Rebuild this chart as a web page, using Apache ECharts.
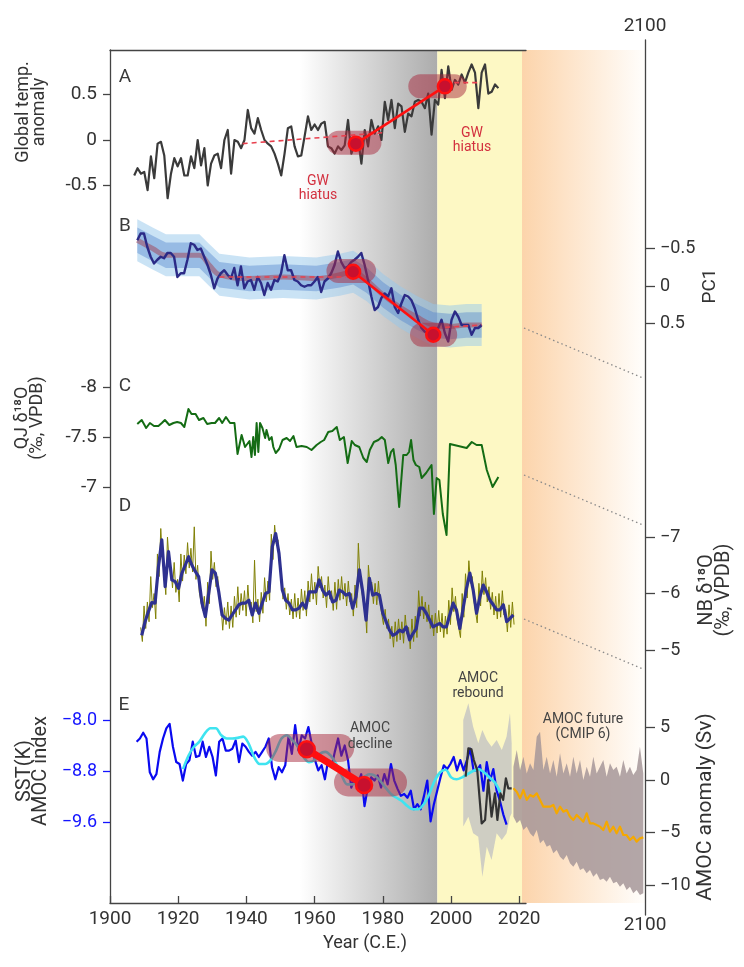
<!DOCTYPE html>
<html>
<head>
<meta charset="utf-8">
<script src="https://cdn.jsdelivr.net/npm/echarts@6/dist/echarts.min.js"></script>
<style>
  html, body { margin: 0; padding: 0; background: #fff; }
  #chart { width: 744px; height: 967px; }
</style>
</head>
<body>
<div id="chart"></div>
<script>
'use strict';

// ---- data ----
// A: global temperature anomaly (yearly, 1907 - 2014)
const tempRange = [1907.1, 2013.9];
const tempVals = [-0.39,-0.31,-0.37,-0.35,-0.55,-0.18,-0.42,-0.04,-0.02,-0.17,
  -0.64,-0.37,-0.20,-0.29,-0.20,-0.39,-0.39,-0.18,-0.31,0,
  -0.28,-0.09,-0.50,-0.26,-0.17,-0.15,-0.31,0,0.11,-0.37,
  0,-0.02,-0.09,0,0.33,0.13,0.07,0.24,0.11,0,
  -0.04,-0.07,-0.15,-0.26,-0.39,-0.15,0.13,0.15,-0.07,-0.18,
  -0.17,0.04,0.26,0.11,0.17,0.11,0.18,0.20,-0.07,-0.09,
  -0.15,-0.07,-0.11,-0.06,0.22,-0.15,-0.04,0.02,-0.26,0.11,
  -0.07,0.22,0.07,0.15,0,0.42,0.22,0.44,0.13,0.40,
  0.37,0.09,0.29,0.26,0.42,0.44,0.42,0.35,0.51,0.06,
  0.44,0.39,0.77,0.46,0.81,0.55,0.66,0.61,0.72,0.63,
  0.74,0.83,0.74,0.35,0.74,0.83,0.51,0.53,0.61,0.57];
const tempTicks = [-0.5, 0, 0.5];
const tempDots = [[1972.1, -0.04], [1998.2, 0.59]];
const tempDash1 = [[1938.9, -0.04], [1980.1, 0.08]];
const tempDash2 = [[1998.3, 0.63], [2008.1, 0.63]];
const tempBoxes = [[1967.0, 1976.1, -0.03], [1991.0, 2001.1, 0.59]];

// B: PC1
const pcRange = [1908.0, 2009.0];
const pcVals = [-0.61,-0.70,-0.70,-0.52,-0.39,-0.30,-0.35,-0.39,-0.37,-0.44,
  -0.44,-0.39,-0.12,-0.17,-0.17,-0.35,-0.57,-0.55,-0.48,-0.50,
  -0.39,-0.28,-0.15,0.03,-0.10,-0.17,-0.21,-0.15,-0.10,-0.24,
  -0.01,-0.26,0.03,-0.06,-0.08,0.05,-0.12,-0.04,0.12,-0.04,
  0.05,-0.08,-0.06,-0.17,-0.41,-0.21,-0.21,-0.08,-0.06,-0.01,
  0.01,-0.01,-0.01,-0.06,-0.12,0.08,-0.06,-0.10,-0.17,-0.28,
  -0.46,-0.32,-0.24,-0.26,-0.32,-0.35,-0.39,-0.44,-0.28,-0.08,
  0.14,0.32,0.28,0.16,0.10,0.14,0.03,0.28,0.36,0.23,
  0.12,0.14,0.19,0.30,0.45,0.56,0.61,0.63,0.68,0.63,
  0.56,0.45,0.63,0.74,0.45,0.34,0.41,0.52,0.52,0.52,
  0.65,0.56,0.56,0.52];
const pcBandYears = [1908.0,1912.5,1916.4,1921.3,1926.2,1929.1,1932.1,1940.9,1950.7,1960.5,
  1967.4,1971.3,1975.2,1980.1,1985.0,1989.9,1994.8,1999.7,2004.6,2009.0];
const pcBandMid = [-0.61,-0.50,-0.41,-0.41,-0.41,-0.28,-0.15,-0.10,-0.12,-0.10,
  -0.15,-0.19,-0.08,0.12,0.28,0.41,0.52,0.54,0.52,0.52];
const pcLightHalf = 0.28;
const pcDarkHalf = 0.17;
const pcTicks = [-0.5, 0, 0.5];
const pcDots = [[1971.3, -0.19], [1994.8, 0.65]];
const pcDash1 = [[1932.1, -0.12], [1969.3, -0.12]];
const pcDash2 = [[1998.3, 0.55], [2009.0, 0.52]];
const pcBoxes = [[1967.0, 1974.5, -0.20], [1991.5, 1998.3, 0.65]];

// C: QJ d18O
const qjYears = [1908.0,1909.3,1910.6,1911.7,1912.9,1914.2,1915.2,1916.1,1917.4,1918.6,
  1919.7,1920.8,1921.8,1923.0,1923.9,1925.1,1926.1,1927.4,1928.5,1929.8,
  1930.8,1932.0,1932.9,1934.0,1935.2,1936.5,1937.4,1938.6,1939.6,1940.9,
  1941.5,1942.0,1942.5,1943.0,1943.5,1944.0,1944.7,1945.5,1945.9,1946.7,
  1947.4,1947.9,1948.6,1949.6,1950.6,1951.8,1952.8,1953.8,1954.7,1956.2,
  1957.7,1959.1,1960.6,1961.8,1962.8,1964.0,1965.2,1966.5,1967.4,1968.6,
  1969.7,1970.9,1971.8,1973.1,1974.3,1975.3,1976.2,1977.4,1978.7,1979.7,
  1980.6,1981.6,1982.4,1983.1,1983.8,1984.8,1986.0,1987.0,1987.7,1988.3,
  1989.0,1989.7,1990.7,1991.4,1992.7,1994.3,1995.0,1995.8,1996.6,1997.6,
  1998.7,1999.7,2004.6,2006.1,2007.5,2009.0,2010.5,2012.2,2013.9];
const qjVals = [-7.63,-7.67,-7.59,-7.64,-7.61,-7.61,-7.64,-7.67,-7.62,-7.64,
  -7.65,-7.64,-7.60,-7.78,-7.73,-7.73,-7.67,-7.69,-7.63,-7.64,
  -7.64,-7.69,-7.64,-7.70,-7.64,-7.64,-7.33,-7.52,-7.40,-7.46,
  -7.30,-7.50,-7.32,-7.64,-7.35,-7.64,-7.59,-7.49,-7.57,-7.47,
  -7.50,-7.40,-7.34,-7.38,-7.47,-7.49,-7.46,-7.51,-7.40,-7.41,
  -7.40,-7.37,-7.42,-7.45,-7.47,-7.55,-7.56,-7.60,-7.47,-7.50,
  -7.24,-7.46,-7.42,-7.40,-7.29,-7.25,-7.37,-7.45,-7.47,-7.50,
  -7.47,-7.24,-7.35,-7.38,-7.22,-6.80,-7.32,-7.32,-7.35,-7.47,
  -7.27,-7.22,-7.20,-7.09,-7.14,-7.22,-6.73,-7.09,-7.07,-6.73,
  -6.52,-7.43,-7.39,-7.45,-7.42,-7.42,-7.17,-7.00,-7.10];
const qjTicks = [-8, -7.5, -7];

// D: NB d18O (smoothed and raw)
const nbRange = [1909.3, 2018.3];
const nbSmooth = [-5.26,-5.50,-5.68,-5.84,-5.83,-6.47,-6.95,-6.12,-6.74,-6.24,
  -6.21,-6.09,-6.36,-6.50,-6.65,-6.50,-6.39,-6.30,-5.83,-5.59,
  -6.00,-6.42,-6.36,-6.03,-5.62,-5.56,-5.53,-5.62,-5.71,-5.80,
  -5.83,-5.83,-5.88,-5.62,-5.83,-5.65,-5.83,-6.00,-6.03,-6.83,
  -7.06,-6.71,-6.06,-5.88,-5.83,-5.71,-5.71,-5.74,-5.83,-5.74,
  -6.03,-6.03,-6.03,-6.24,-6.06,-5.97,-6.03,-5.85,-5.88,-6.06,
  -6.03,-5.97,-6.00,-5.74,-5.94,-6.42,-6.03,-5.53,-6.27,-5.97,
  -6.00,-5.97,-5.65,-5.50,-5.35,-5.26,-5.29,-5.35,-5.32,-5.41,
  -5.18,-5.29,-5.38,-5.74,-5.74,-5.65,-5.53,-5.41,-5.44,-5.47,
  -5.41,-5.41,-5.62,-5.83,-5.71,-5.38,-5.74,-6.09,-6.36,-6.06,
  -5.65,-5.94,-6.15,-6.03,-5.88,-5.80,-5.71,-5.71,-5.80,-5.50,
  -5.56,-5.62];
const nbRawRange = [1909.0, 2018.5];
const nbRaw = [-5.40,-5.15,-5.78,-5.38,-5.85,-5.50,-6.30,-5.75,-6.00,-5.55,-6.70,-6.30,-7.15,-6.60,-6.35,-5.98,-7.00,-6.55,-6.45,-6.10,
  -6.55,-6.02,-6.25,-5.85,-6.70,-6.22,-6.68,-6.35,-6.90,-6.45,-6.80,-6.38,-7.18,-6.25,-6.50,-6.02,-6.05,-5.70,-5.95,-5.42,
  -6.20,-5.82,-6.75,-6.25,-6.55,-6.12,-6.30,-5.90,-5.80,-5.35,-5.75,-5.45,-5.85,-5.38,-5.78,-5.40,-5.95,-5.58,-6.12,-5.62,
  -6.00,-5.70,-6.05,-5.60,-6.15,-5.72,-5.85,-5.48,-6.59,-5.68,-5.90,-5.50,-6.02,-5.65,-6.28,-5.85,-6.22,-5.88,-7.05,-6.60,
  -7.21,-6.88,-6.95,-6.45,-6.30,-5.90,-6.10,-5.72,-6.00,-5.62,-5.90,-5.55,-6.00,-5.58,-5.92,-5.55,-6.08,-5.70,-6.05,-5.60,
  -6.22,-5.85,-6.35,-5.90,-6.20,-5.80,-6.48,-6.10,-6.30,-5.92,-6.15,-5.75,-6.30,-5.90,-6.05,-5.70,-6.20,-5.72,-6.25,-5.88,
  -6.30,-5.90,-6.18,-5.78,-6.22,-5.85,-6.00,-5.60,-6.15,-5.75,-6.89,-6.25,-6.25,-5.85,-5.80,-5.30,-6.50,-6.10,-6.20,-5.82,
  -6.18,-5.80,-6.22,-5.82,-5.85,-5.45,-5.72,-5.38,-5.55,-5.20,-5.42,-5.05,-5.50,-5.15,-5.55,-5.18,-5.50,-5.12,-5.62,-5.28,
  -5.40,-5.02,-5.55,-5.15,-5.60,-5.22,-6.05,-5.60,-5.95,-5.55,-5.85,-5.50,-5.80,-5.38,-5.62,-5.25,-5.65,-5.30,-5.70,-5.32,
  -5.65,-5.22,-5.60,-5.28,-5.88,-5.45,-6.10,-5.68,-5.95,-5.55,-5.58,-5.22,-6.00,-5.58,-6.35,-5.92,-6.58,-6.18,-6.30,-5.88,
  -5.90,-5.48,-6.18,-5.78,-6.40,-5.98,-6.28,-5.85,-6.12,-5.72,-6.02,-5.62,-5.95,-5.55,-6.00,-5.58,-6.05,-5.62,-5.72,-5.32,
  -5.80,-5.40,-5.85,-5.45];
const nbTicks = [-7, -6, -5];

// E: SST(K) AMOC index, RAPID AMOC, CMIP6 future
const sstRange = [1907.8, 2016.3];
const sstVals = [-8.34,-8.29,-8.20,-8.29,-8.82,-8.93,-8.85,-8.50,-8.29,-8.13,
  -8.06,-8.42,-8.66,-8.69,-8.95,-8.69,-8.63,-8.34,-8.58,-8.56,
  -8.34,-8.58,-8.42,-8.58,-8.87,-8.34,-8.29,-8.48,-8.48,-8.45,
  -8.32,-8.66,-8.37,-8.42,-8.50,-8.56,-8.50,-8.58,-8.50,-8.42,
  -8.29,-8.74,-8.93,-8.74,-8.82,-8.71,-8.26,-8.53,-8.08,-8.48,
  -8.24,-8.29,-8.11,-8.37,-8.63,-8.79,-8.71,-8.93,-8.63,-8.74,
  -8.50,-8.29,-8.56,-8.40,-8.63,-9.06,-8.90,-9.01,-8.85,-9.35,
  -9.06,-8.90,-8.95,-8.87,-9.06,-8.85,-9.01,-8.69,-8.95,-9.08,
  -9.19,-9.16,-9.22,-9.11,-9.40,-9.32,-9.40,-9.19,-8.95,-9.59,
  -9.32,-9.11,-8.90,-8.71,-8.77,-8.69,-8.58,-8.79,-8.63,-8.79,
  -8.63,-8.45,-8.79,-8.79,-8.71,-9.11,-8.66,-8.95,-8.77,-9.11,
  -9.27,-9.48,-9.64];
const sstSmoothRange = [1921.4, 2014.5];
const sstSmooth = [-8.77,-8.56,-8.42,-8.34,-8.21,-8.13,-8.13,-8.24,-8.29,-8.29,
  -8.28,-8.26,-8.37,-8.58,-8.69,-8.69,-8.63,-8.48,-8.29,-8.24,
  -8.32,-8.42,-8.58,-8.66,-8.63,-8.53,-8.50,-8.56,-8.69,-8.87,
  -9.01,-9.01,-8.95,-8.90,-8.85,-8.87,-8.95,-9.06,-9.16,-9.22,
  -9.27,-9.35,-9.40,-9.40,-9.32,-9.16,-8.95,-8.82,-8.78,-8.90,
  -8.93,-8.90,-8.85,-8.80,-8.77,-8.82,-8.90,-8.98,-9.14];
const sstTicks = [-9.6, -8.8, -8.0];
const sstDots = [[1957.7, -8.46], [1974.5, -9.02]];
const sstBoxes = [[1949.9, 1967.5, -8.44], [1969.8, 1983.0, -8.98]];

const rapidYears = [2004.3,2005.1,2006.0,2006.7,2007.7,2009.0,2010.0,2010.9,2011.9,2012.9,2013.6,2014.5,2015.3,2016.1,2016.8,2017.8];
const rapidVals = [0.32,3.02,2.92,1.90,0.95,-4.13,-3.81,0,-3.49,-1.27,-3.81,-1.27,-1.90,0.16,-0.79,-0.79];
const rapidBandYears = [2003.6,2005.1,2006.5,2008.0,2009.2,2010.5,2011.9,2013.4,2014.9,2016.3,2017.3,2017.8];
const rapidBandHi = [5.71,7.30,5.08,3.49,4.76,3.81,3.17,3.81,2.86,4.13,6.35,3.50];
const rapidBandLo = [-4.44,-3.49,-5.08,-5.40,-9.21,-6.35,-7.62,-5.08,-5.71,-5.08,-3.49,-3.17];

const futRange = [2015.9, 2098.9];
const futMean = [-0.79,-1.11,-1.75,-0.95,-1.90,-1.43,-1.59,-1.27,-1.90,-2.54,
  -2.54,-2.54,-2.38,-3.17,-2.54,-3.02,-2.86,-3.49,-3.81,-3.33,
  -3.65,-3.97,-3.17,-4.13,-4.13,-4.29,-4.44,-4.76,-3.97,-4.92,
  -4.44,-5.08,-4.44,-5.24,-5.24,-5.71,-5.40,-5.87,-5.56,-5.46];
const futHi = [1.27,2.86,0.95,2.22,0.63,1.59,0.95,4.13,4.60,0.95,
  2.22,0.63,1.90,0.32,2.54,0.63,1.59,0.32,2.22,0.63,
  1.90,0,1.27,0.32,2.22,0.63,1.27,1.90,0.32,1.59,
  0.95,1.27,0.32,1.90,0.63,1.27,0.48,0.95,3.17,0.63];
const futLo = [-3.49,-4.13,-3.81,-4.76,-4.44,-5.08,-5.40,-4.76,-6.03,-5.71,
  -6.35,-6.19,-6.98,-6.67,-7.30,-7.62,-7.14,-7.94,-8.25,-7.78,
  -8.57,-8.41,-8.89,-8.57,-9.21,-8.89,-9.52,-9.37,-9.68,-9.21,
  -9.84,-9.68,-10.16,-9.84,-10.48,-10.16,-10.79,-10.48,-10.95,-10.79];
const amocTicks = [-10, -5, 0, 5];

// shaded periods
const declineSpan = [1955.6, 1996];
const reboundSpan = [1996, 2021];
const futureSpan = [2021.4, 2100];

// ---- helpers ----
const FONT = 'Roboto, "Noto Sans", sans-serif';
const AX = '#444';
const TXT = '#333';

function spread(range, n) {
  const out = [];
  for (let i = 0; i < n; i++) out.push(range[0] + (range[1] - range[0]) * i / (n - 1));
  return out;
}
function zip(xs, ys) { return xs.map((x, i) => [x, ys[i]]); }
function minus(v) { return v < 0 ? '\u2212' + String(-v) : String(v); }

function line(xi, yi, data, color, width, extra) {
  return Object.assign({
    type: 'line', xAxisIndex: xi, yAxisIndex: yi, data: data,
    symbol: 'none', silent: true,
    lineStyle: { color: color, width: width, join: 'round' }
  }, extra || {});
}
function box(xi, yi, b, h) {
  return line(xi, yi, [[b[0], b[2]], [b[1], b[2]]], 'rgba(168,42,62,0.5)', h,
    { clip: false, lineStyle: { color: 'rgba(168,42,62,0.5)', width: h, cap: 'round' } });
}
function dots(xi, yi, data, width, size) {
  return {
    type: 'line', xAxisIndex: xi, yAxisIndex: yi, data: data, silent: true, clip: false,
    symbol: 'circle', symbolSize: size, showSymbol: true,
    itemStyle: { color: '#c8102e', borderColor: '#ff1010', borderWidth: 2.5 },
    lineStyle: { color: '#ff1010', width: width }
  };
}
function dashed(xi, yi, data) {
  return line(xi, yi, data, '#e8404e', 1.6, { lineStyle: { color: '#e8404e', width: 1.6, type: [5, 4] } });
}
function band(xi, yi, xs, lo, hi, fill) {
  return {
    type: 'custom', xAxisIndex: xi, yAxisIndex: yi, silent: true,
    data: xs.map((x, i) => [x, lo[i], hi[i]]),
    encode: { x: 0, y: [1, 2] },
    renderItem: function (params, api) {
      if (params.dataIndex !== 0) return;
      const top = xs.map((x, i) => api.coord([x, hi[i]]));
      const bot = xs.map((x, i) => api.coord([x, lo[i]])).reverse();
      return { type: 'polygon', shape: { points: top.concat(bot) }, style: { fill: fill } };
    }
  };
}
function hx(gi, min, max) { return { type: 'value', gridIndex: gi, min: min, max: max, show: false }; }
function hy(gi, min, max) { return { type: 'value', gridIndex: gi, min: min, max: max, show: false }; }
function tickY(gi, min, max, ticks, pos, fmt, o) {
  o = o || {};
  const col = o.color || TXT;
  return {
    type: 'value', gridIndex: gi, min: min, max: max, position: pos,
    inverse: !!o.inverse, offset: o.offset || 0, z: 10,
    axisLine: { show: false },
    axisTick: { show: true, length: o.tick || 7, customValues: ticks, lineStyle: { color: o.tickColor || AX, width: 1.3 } },
    axisLabel: { customValues: ticks, formatter: fmt, color: col, fontSize: o.size || 19, fontFamily: FONT, margin: o.margin || 13 },
    splitLine: { show: false }
  };
}
function txt(x, y, text, size, color, o) {
  o = o || {};
  return {
    type: 'text', x: x, y: y, rotation: o.rot || 0, z: 100, silent: true,
    style: {
      text: text, fill: color, font: size + 'px ' + FONT,
      textAlign: 'center', align: 'center', textVerticalAlign: 'middle', verticalAlign: 'middle',
      lineHeight: o.lh || size + 2
    }
  };
}
function dotted(x1, y1, x2, y2) {
  return { type: 'line', z: 100, silent: true, shape: { x1: x1, y1: y1, x2: x2, y2: y2 },
    style: { stroke: '#8a8a8a', lineWidth: 1.3, lineDash: [1.5, 3] } };
}

// ---- layout ----
const grids = [
  { left: 110, top: 50, width: 416, height: 853 },     // 0 frame
  { left: 110, top: 58.1, width: 416, height: 154.7 }, // 1 A
  { left: 110, top: 218.5, width: 416, height: 135 },  // 2 B
  { left: 110, top: 377, width: 416, height: 170 },    // 3 C
  { left: 110, top: 503.1, width: 416, height: 169.5 },// 4 D
  { left: 110, top: 694.5, width: 416, height: 178.5 },// 5 E (SST)
  { left: 110, top: 696, width: 416, height: 210 },    // 6 E (Sv)
  { left: 512, top: 696, width: 133, height: 210 },    // 7 future
  { left: 512, top: 40, width: 133, height: 875 },     // 8 right frame
  { left: 512, top: 50, width: 133, height: 853 }      // 9 future shading
].map(g => Object.assign({ outerBoundsMode: 'none', containLabel: false }, g));

const Y0 = 1900, Y1 = 2022, F0 = 2015, F1 = 2100;
const xAxes = [
  { type: 'value', gridIndex: 0, min: Y0, max: Y1, interval: 20, position: 'bottom', z: 10,
    axisLine: { show: true, lineStyle: { color: AX, width: 1.3 } },
    axisTick: { show: true, inside: true, length: 7, lineStyle: { color: AX, width: 1.3 } },
    axisLabel: { formatter: v => String(v), color: TXT, fontSize: 19, fontFamily: FONT, margin: 7 },
    splitLine: { show: false } },
  { type: 'value', gridIndex: 0, min: Y0, max: Y1, position: 'top', z: 10,
    axisLine: { show: true, lineStyle: { color: AX, width: 1.3 } },
    axisTick: { show: false }, axisLabel: { show: false }, splitLine: { show: false } },
  hx(1, Y0, Y1), hx(2, Y0, Y1), hx(3, Y0, Y1), hx(4, Y0, Y1), hx(5, Y0, Y1), hx(6, Y0, Y1),
  hx(7, F0, F1),
  { type: 'value', gridIndex: 8, min: F0, max: F1, interval: 85, position: 'bottom',
    axisLine: { show: false }, axisTick: { show: false }, splitLine: { show: false },
    axisLabel: { formatter: v => (v === 2100 ? '2100' : ''), color: TXT, fontSize: 19, fontFamily: FONT, margin: 1 } },
  { type: 'value', gridIndex: 8, min: F0, max: F1, interval: 85, position: 'top',
    axisLine: { show: false }, axisTick: { show: false }, splitLine: { show: false },
    axisLabel: { formatter: v => (v === 2100 ? '2100' : ''), color: TXT, fontSize: 19, fontFamily: FONT, margin: 4 } },
  hx(9, F0, F1)
];
const XI = { A: 2, B: 3, C: 4, D: 5, E: 6, S: 7, F: 8, O: 11 };

const yAxes = [
  { type: 'value', gridIndex: 0, min: 0, max: 1, position: 'left', z: 10,
    axisLine: { show: true, lineStyle: { color: AX, width: 1.3 } },
    axisTick: { show: false }, axisLabel: { show: false }, splitLine: { show: false } },
  tickY(1, -0.8, 0.9, tempTicks, 'left', v => String(v)),
  tickY(2, -0.9, 0.9, pcTicks, 'right', minus, { inverse: true, offset: 119, tick: 10, size: 18, margin: 15 }),
  tickY(3, -8.1, -6.4, qjTicks, 'left', v => String(v), { inverse: true }),
  tickY(4, -7.6, -4.6, nbTicks, 'right', minus, { inverse: true, offset: 119, tick: 10, size: 18, margin: 15 }),
  tickY(5, -10.4, -7.6, sstTicks, 'left', v => '\u2212' + Math.abs(v).toFixed(1),
    { color: '#1414ff', tickColor: '#1414ff', size: 18 }),
  hy(6, -12, 8),
  tickY(7, -12, 8, amocTicks, 'right', minus, { tick: 10, size: 18, margin: 15 }),
  { type: 'value', gridIndex: 8, min: 0, max: 1, position: 'right', z: 10,
    axisLine: { show: true, lineStyle: { color: AX, width: 1.3 } },
    axisTick: { show: false }, axisLabel: { show: false }, splitLine: { show: false } },
  hy(9, 0, 1)
];
const YI = { A: 1, B: 2, C: 3, D: 4, E: 5, S: 6, F: 7, O: 9 };

// ---- series ----
const grayGrad = new echarts.graphic.LinearGradient(0, 0, 1, 0,
  [{ offset: 0, color: '#ffffff' }, { offset: 1, color: '#acacac' }]);
const orangeGrad = new echarts.graphic.LinearGradient(0, 0, 1, 0,
  [{ offset: 0, color: '#fcd4ab' }, { offset: 1, color: '#fffefc' }]);

const pcLightLo = pcBandMid.map(v => v - pcLightHalf), pcLightHi = pcBandMid.map(v => v + pcLightHalf);
const pcDarkLo = pcBandMid.map(v => v - pcDarkHalf), pcDarkHi = pcBandMid.map(v => v + pcDarkHalf);

const series = [
  // backgrounds
  { type: 'line', xAxisIndex: 0, yAxisIndex: 0, data: [[1900, 0]], symbol: 'none', silent: true,
    lineStyle: { opacity: 0 },
    markArea: { silent: true, data: [
      [{ xAxis: declineSpan[0], itemStyle: { color: grayGrad } }, { xAxis: declineSpan[1] }],
      [{ xAxis: reboundSpan[0], itemStyle: { color: '#fdf8c4' } }, { xAxis: reboundSpan[1] }]
    ] } },
  { type: 'line', xAxisIndex: XI.O, yAxisIndex: YI.O, data: [[2050, 0]], symbol: 'none', silent: true,
    lineStyle: { opacity: 0 },
    markArea: { silent: true, data: [
      [{ xAxis: futureSpan[0], itemStyle: { color: orangeGrad } }, { xAxis: futureSpan[1] }]
    ] } },

  // A
  line(XI.A, YI.A, zip(spread(tempRange, tempVals.length), tempVals), '#3a3a3a', 2.2),
  box(XI.A, YI.A, tempBoxes[0], 24),
  box(XI.A, YI.A, tempBoxes[1], 24),
  dashed(XI.A, YI.A, tempDash1),
  dashed(XI.A, YI.A, tempDash2),
  dots(XI.A, YI.A, tempDots, 2.6, 14),

  // B
  band(XI.B, YI.B, pcBandYears, pcLightLo, pcLightHi, 'rgba(150,200,235,0.5)'),
  band(XI.B, YI.B, pcBandYears, pcDarkLo, pcDarkHi, 'rgba(80,130,205,0.42)'),
  line(XI.B, YI.B, zip(pcBandYears, pcBandMid), 'rgba(160,75,95,0.55)', 5, { smooth: 0.4 }),
  line(XI.B, YI.B, zip(spread(pcRange, pcVals.length), pcVals), '#2b2a86', 2.4),
  box(XI.B, YI.B, pcBoxes[0], 24),
  box(XI.B, YI.B, pcBoxes[1], 24),
  dashed(XI.B, YI.B, pcDash1),
  dashed(XI.B, YI.B, pcDash2),
  dots(XI.B, YI.B, pcDots, 2.6, 14),

  // C
  line(XI.C, YI.C, zip(qjYears, qjVals), '#146c14', 2),

  // D
  line(XI.D, YI.D, zip(spread(nbRawRange, nbRaw.length), nbRaw), '#808005', 1),
  line(XI.D, YI.D, zip(spread(nbRange, nbSmooth.length), nbSmooth), '#2e3190', 3.2),

  // E
  band(XI.S, YI.S, rapidBandYears, rapidBandLo, rapidBandHi, 'rgba(195,195,195,0.8)'),
  band(XI.F, YI.F, spread(futRange, futHi.length), futLo, futHi, 'rgba(166,150,153,0.85)'),
  line(XI.E, YI.E, zip(spread(sstRange, sstVals.length), sstVals), '#0a0af0', 2.2),
  line(XI.E, YI.E, zip(spread(sstSmoothRange, sstSmooth.length), sstSmooth), '#3fe4f0', 2.6, { smooth: 0.3 }),
  line(XI.S, YI.S, zip(rapidYears, rapidVals), '#333333', 2.2),
  line(XI.F, YI.F, zip(spread(futRange, futMean.length), futMean), '#f5a800', 2.2),
  box(XI.E, YI.E, sstBoxes[0], 28),
  box(XI.E, YI.E, sstBoxes[1], 28),
  dots(XI.E, YI.E, sstDots, 7, 16)
];

// ---- text & decorations ----
const R90 = Math.PI / 2;
const graphics = [
  dotted(524, 328, 643, 378),
  dotted(524, 475, 643, 525),
  dotted(524, 619, 643, 669),
  txt(125, 77, 'A', 19, '#3a3a3a'),
  txt(125, 226, 'B', 19, '#3a3a3a'),
  txt(125, 386, 'C', 19, '#3a3a3a'),
  txt(125, 506, 'D', 19, '#3a3a3a'),
  txt(124, 705, 'E', 19, '#3a3a3a'),
  txt(31, 112, 'Global temp.\nanomaly', 18, TXT, { rot: R90, lh: 16 }),
  txt(30, 418, 'QJ \u03b4\u00b9\u2078O\n(\u2030, VPDB)', 18, TXT, { rot: R90, lh: 15 }),
  txt(33, 771, 'SST(K)\nAMOC index', 20, TXT, { rot: R90, lh: 16 }),
  txt(710, 286, 'PC1', 19, TXT, { rot: R90 }),
  txt(715, 590, 'NB \u03b4\u00b9\u2078O\n(\u2030, VPDB)', 20, TXT, { rot: R90, lh: 17 }),
  txt(706, 807, 'AMOC anomaly (Sv)', 21, TXT, { rot: R90 }),
  txt(365, 943, 'Year (C.E.)', 18, TXT),
  txt(318, 188, 'GW\nhiatus', 14, '#d3303f', { lh: 14 }),
  txt(472, 140, 'GW\nhiatus', 14, '#d3303f', { lh: 14 }),
  txt(370, 736, 'AMOC\ndecline', 14, '#444', { lh: 16 }),
  txt(478, 686, 'AMOC\nrebound', 14, '#444', { lh: 15 }),
  txt(583, 727, 'AMOC future\n(CMIP 6)', 14, '#444', { lh: 15 })
];

const chart = echarts.init(document.getElementById('chart'), null, { renderer: 'canvas' });
chart.setOption({
  animation: false,
  backgroundColor: '#ffffff',
  textStyle: { fontFamily: FONT },
  grid: grids,
  xAxis: xAxes,
  yAxis: yAxes,
  series: series,
  graphic: graphics
});
</script>
</body>
</html>
